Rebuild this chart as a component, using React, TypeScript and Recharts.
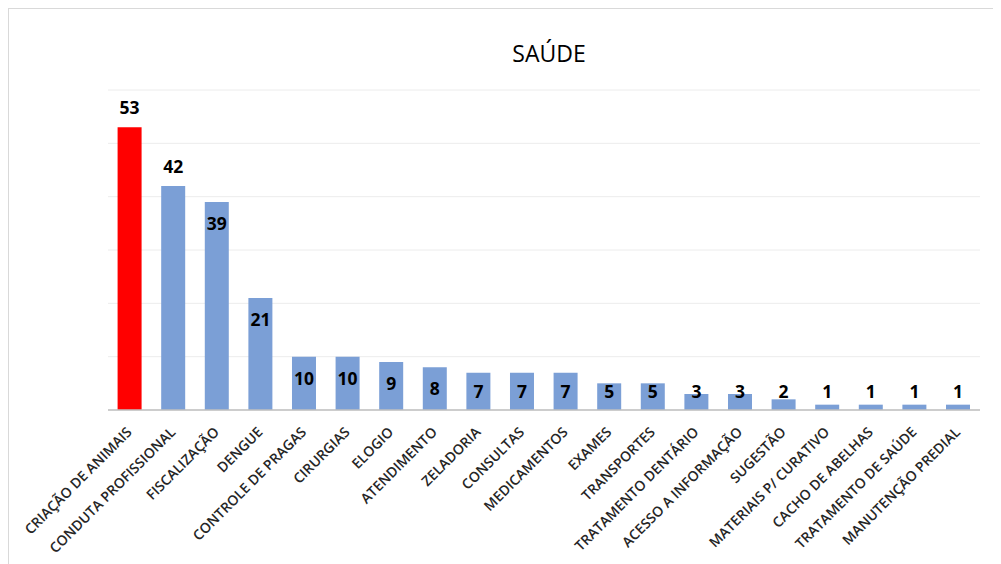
import { BarChart, Bar, XAxis, YAxis, CartesianGrid, Cell, LabelList } from "recharts"

const categories = [
	"CRIAÇÃO DE ANIMAIS",
	"CONDUTA PROFISSIONAL",
	"FISCALIZAÇÃO",
	"DENGUE",
	"CONTROLE DE PRAGAS",
	"CIRURGIAS",
	"ELOGIO",
	"ATENDIMENTO",
	"ZELADORIA",
	"CONSULTAS",
	"MEDICAMENTOS",
	"EXAMES",
	"TRANSPORTES",
	"TRATAMENTO DENTÁRIO",
	"ACESSO A INFORMAÇÃO",
	"SUGESTÃO",
	"MATERIAIS P/ CURATIVO",
	"CACHO DE ABELHAS",
	"TRATAMENTO DE SAÚDE",
	"MANUTENÇÃO PREDIAL",
]

const values = [53, 42, 39, 21, 10, 10, 9, 8, 7, 7, 7, 5, 5, 3, 3, 2, 1, 1, 1, 1]

const yTicks = [0, 10, 20, 30, 40, 50, 60]

const data = categories.map((name, i) => ({ name, total: values[i] }))

const FONT = "'Open Sans', sans-serif"

const CategoryTick = (props: any) => {
	const { x, y, payload } = props
	return (
		<g transform={`translate(${x + 3},${y + 15})`}>
			<text
				textAnchor="end"
				transform="rotate(-45)"
				fontFamily={FONT}
				fontSize={14}
				fontWeight={600}
				fill="#262626"
			>
				{payload.value}
			</text>
		</g>
	)
}

const ValueLabel = (props: any) => {
	const { x, y, width, height, value, index } = props
	const cy = index < 2 ? y - 20 : Math.min(y + 21, y + height - 19)
	return (
		<text
			x={x + width / 2}
			y={cy}
			textAnchor="middle"
			dominantBaseline="central"
			fontFamily={FONT}
			fontSize={17.5}
			fontWeight={700}
			fill="#000"
		>
			{value}
		</text>
	)
}

export default function App() {
	return (
		<div
			style={{
				position: "relative",
				width: 990,
				height: 556,
				border: "1px solid #d9d9d9",
				background: "#fff",
			}}
		>
			<div
				style={{
					position: "absolute",
					left: 0,
					right: 0,
					top: 28,
					paddingLeft: 90,
					textAlign: "center",
					fontFamily: FONT,
					fontSize: 23,
					color: "#000",
				}}
			>
				SAÚDE
			</div>
			<BarChart
				width={990}
				height={556}
				data={data}
				margin={{ top: 81, right: 19, left: 99, bottom: 0 }}
				barCategoryGap="22%"
			>
				<CartesianGrid vertical={false} stroke="#ececec" />
				<YAxis hide domain={[0, 60]} ticks={yTicks} />
				<XAxis
					dataKey="name"
					interval={0}
					tickLine={false}
					axisLine={{ stroke: "#bfbfbf", strokeWidth: 1.5 }}
					height={155}
					tick={<CategoryTick />}
				/>
				<Bar dataKey="total" isAnimationActive={false}>
					{data.map((d, i) => (
						<Cell key={d.name} fill={i === 0 ? "#ff0000" : "#7b9fd6"} />
					))}
					<LabelList dataKey="total" content={<ValueLabel />} />
				</Bar>
			</BarChart>
		</div>
	)
}
